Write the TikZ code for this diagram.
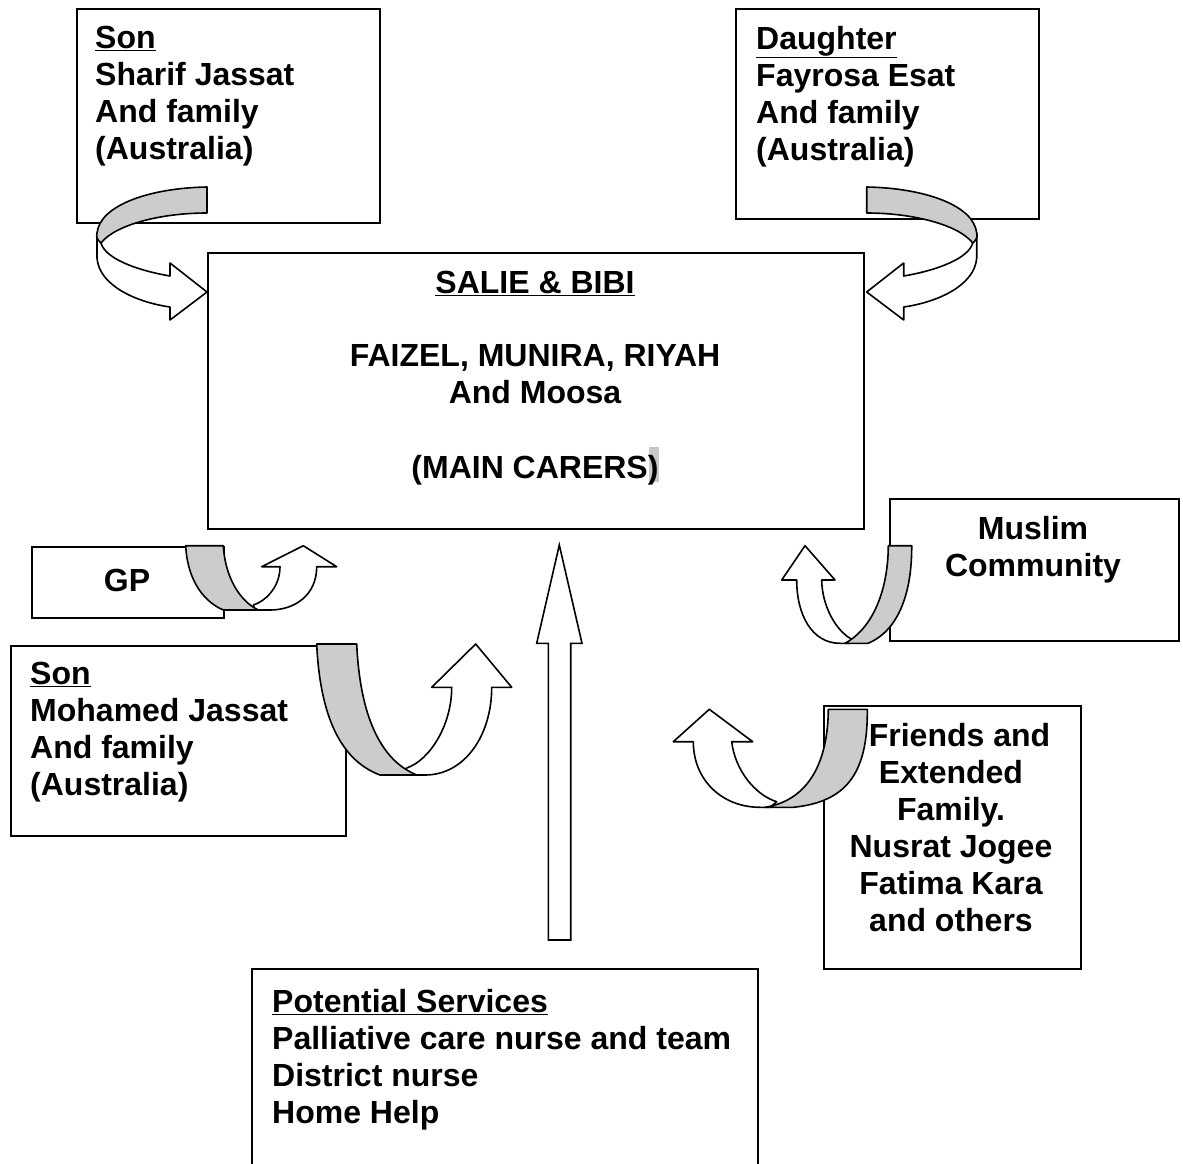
\documentclass[tikz,border=0pt]{standalone}
\usepackage{fontspec}
\setmainfont{Liberation Sans}
\definecolor{ribbon}{RGB}{204,204,204}
\definecolor{hilite}{RGB}{200,200,200}
\begin{document}
\begin{tikzpicture}[x=1pt,y=-1pt,
  box/.style={draw,line width=1.6pt,anchor=north west,inner sep=0pt},
  txt/.style={inner sep=0pt,font=\bfseries\fontsize{32}{37}\selectfont},
  fr/.style={draw,line width=1.6pt,fill=white,line join=round},
  bk/.style={draw,line width=1.6pt,fill=ribbon,line join=round}]
\useasboundingbox (0,0) rectangle (1183,1164);
\clip (0,0) rectangle (1183,1164);
% boxes
\node[box,minimum width=303pt,minimum height=214pt] (sonbox) at (76,8) {};
\node[box,minimum width=303pt,minimum height=210pt] (daubox) at (735,8) {};
\node[box,minimum width=656pt,minimum height=276pt] (mainbox) at (207,252) {};
\node[box,minimum width=192pt,minimum height=71pt] (gpbox) at (31,546) {};
\node[box,minimum width=289pt,minimum height=142pt] (mcbox) at (889,498) {};
\node[box,minimum width=335pt,minimum height=190pt] (son2box) at (10,645) {};
\node[box,minimum width=257pt,minimum height=263pt] (frbox) at (823,705) {};
\node[box,minimum width=506pt,minimum height=220pt] (psbox) at (251,968) {};
% highlight
\fill[hilite] (649,447) rectangle (659,482);
% arrow 1 (top-left)
\path[fr] (97,233) -- (97,258) .. controls (99,285) and (135,302) .. (170,307) -- (170,320) -- (207,292) -- (170,263) -- (170,276) .. controls (135,270) and (105,258) .. (101,243) -- cycle;
\path[bk] (207,187) -- (207,213) .. controls (160,213) and (115,225) .. (101,243) .. controls (97,240) and (96,236) .. (97,233) .. controls (100,205) and (150,188) .. (207,187) -- cycle;
% arrow 2 (top-right, mirrored)
\begin{scope}[xshift=1073.7pt,xscale=-1]
\path[fr] (97,233) -- (97,258) .. controls (99,285) and (135,302) .. (170,307) -- (170,320) -- (207,292) -- (170,263) -- (170,276) .. controls (135,270) and (105,258) .. (101,243) -- cycle;
\path[bk] (207,187) -- (207,213) .. controls (160,213) and (115,225) .. (101,243) .. controls (97,240) and (96,236) .. (97,233) .. controls (100,205) and (150,188) .. (207,187) -- cycle;
\end{scope}
% arrow 3 (GP)
\path[fr] (255,610) -- (270,610) .. controls (295,610) and (316.7,595) .. (316.7,566.7) -- (336.7,566.7) -- (303.3,545.7) -- (261.7,566.7) -- (280,566.7) .. controls (280,585) and (268,600) .. (253.3,605) -- cycle;
\path[bk] (185.7,545.7) -- (223.3,545.7) .. controls (225,575) and (238,600) .. (258.3,610) -- (223.3,610) .. controls (200,600) and (187,575) .. (185.7,545.7) -- cycle;
% arrow 4 (Muslim community)
\path[fr] (850,643.3) -- (840,643.3) .. controls (812,643.3) and (796.7,615) .. (796.7,580) -- (781.7,580) -- (805,545.7) -- (835,580) -- (821.7,580) .. controls (822,605) and (835,630) .. (851.7,639.3) -- cycle;
\path[bk] (888.3,545.7) -- (911.7,545.7) .. controls (912,590) and (900,630) .. (868,643.3) -- (845,643.3) .. controls (870,630) and (888,595) .. (888.3,545.7) -- cycle;
% arrow 5 (Son Mohamed)
\path[fr] (400,775) -- (425,775) .. controls (465,775) and (491.7,735) .. (491.7,687.3) -- (511.7,687.3) -- (475.7,644) -- (431.7,687.3) -- (451.7,687.3) .. controls (451.7,725) and (430,760) .. (406.7,768) -- cycle;
\path[bk] (316.7,644) -- (356.7,644) .. controls (360,715) and (380,760) .. (416.7,775) -- (380,775) .. controls (340,760) and (320,715) .. (316.7,644) -- cycle;
% arrow 6 (Friends)
\path[fr] (770,807.3) -- (760,807.3) .. controls (722,807.3) and (693.3,780) .. (693.3,741.7) -- (673.3,741.7) -- (709.3,709.3) -- (752.7,741.7) -- (731.7,741.7) .. controls (735,770) and (755,795) .. (776.7,801.7) -- cycle;
\path[bk] (828.3,709.3) -- (867.3,709.3) .. controls (868,775) and (845,802) .. (793.3,807.3) -- (765,807.3) .. controls (810,800) and (828,760) .. (828.3,709.3) -- cycle;
% vertical arrow (services)
\path[fr,line join=miter] (548.3,940) -- (548.3,643.3) -- (536.7,643.3) -- (559.3,545) -- (582,643.3) -- (570.7,643.3) -- (570.7,940) -- cycle;
% texts
\node[txt,anchor=north west,align=left] (sontxt) at (95,26) {\underline{Son}\\Sharif Jassat\\And family\\(Australia)};
\node[txt,anchor=north west,align=left] (dautxt) at (756,26) {\underline{Daughter}\\Fayrosa Esat\\And family\\(Australia)};
\node[txt,anchor=north,align=center] (maintxt) at (535,271) {\underline{SALIE \& BIBI}\\[36pt]FAIZEL, MUNIRA, RIYAH\\And Moosa\\[38pt](MAIN CARERS)};
\node[txt] (gptxt) at (127,580) {GP};
\node[txt,anchor=north,align=center] (mctxt) at (1033,516) {Muslim\\Community};
\node[txt,anchor=north west,align=left] (son2txt) at (30,662) {\underline{Son}\\Mohamed Jassat\\And family\\(Australia)};
\node[txt,anchor=north,align=center] (frtxt) at (951,723) {\hspace*{17pt}Friends and\\Extended\\Family.\\Nusrat Jogee\\Fatima Kara\\and others};
\node[txt,anchor=north west,align=left] (pstxt) at (272,989) {\underline{Potential Services}\\Palliative care nurse and team\\District nurse\\Home Help};
\end{tikzpicture}
\end{document}
